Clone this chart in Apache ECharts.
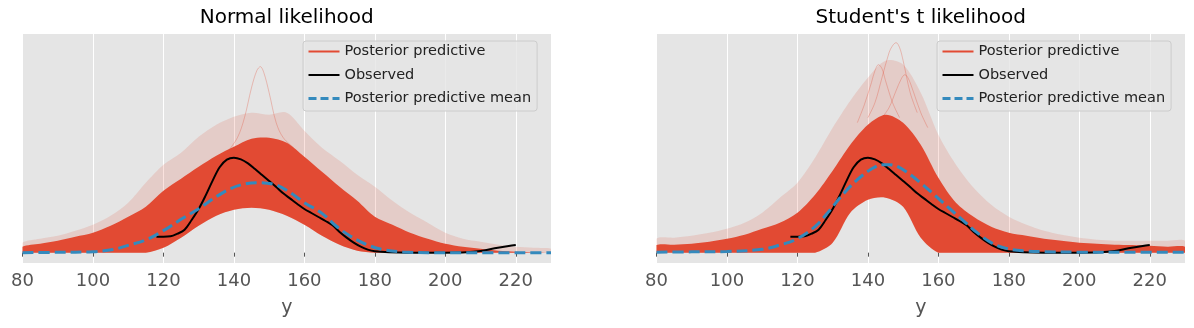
<!DOCTYPE html>
<html>
<head>
<meta charset="utf-8">
<title>Posterior predictive checks</title>
<script src="https://cdn.jsdelivr.net/npm/echarts@6/dist/echarts.min.js"></script>
<style>
  html, body { margin: 0; padding: 0; background: #fff; }
  #chart { width: 1194px; height: 328px; }
</style>
</head>
<body>
<div id="chart"></div>
<script>
(function() {
  'use strict';

  var FONT = 'DejaVu Sans';
  var RED = '#E24A33', BLUE = '#348ABD';

  var panelTitles = ['Normal likelihood', "Student's t likelihood"];
  var legendNames = ['Posterior predictive', 'Observed', 'Posterior predictive mean'];
  var xTicks = [80, 100, 120, 140, 160, 180, 200, 220];

  // x positions of the posterior predictive envelopes
  var envX = [80, 85, 90, 95, 100, 105, 110, 115, 120, 125, 130, 135, 140, 145, 150,
    155, 160, 165, 170, 175, 180, 185, 190, 195, 200, 205, 210, 215, 220, 225, 230];

  // observed kde (same in both panels)
  var obsX = [118, 120, 122, 124, 126, 128, 130, 132, 134, 136, 138, 140, 142, 144, 146,
    148, 150, 152, 154, 156, 158, 160, 162, 164, 166, 168, 170, 172, 174, 176, 178, 180,
    184, 190, 200, 206, 210, 214, 218, 220];
  var obsY = [0.0048, 0.0048, 0.0049, 0.0057, 0.0069, 0.0098, 0.0131, 0.0172, 0.0217,
    0.0257, 0.0279, 0.0285, 0.0280, 0.0268, 0.0251, 0.0233, 0.0215, 0.0197, 0.0178,
    0.0162, 0.0146, 0.0131, 0.0119, 0.0107, 0.0095, 0.0082, 0.0062, 0.0045, 0.0030,
    0.0018, 0.0009, 0.0004, 0.0001, 0, 0, 0.0001, 0.0005, 0.0013, 0.0020, 0.0023];

  // Normal likelihood
  var normMeanX = [80, 90, 100, 106, 110, 115, 120, 125, 130, 135, 139, 143, 147, 152,
    156, 160, 165, 169, 173, 178, 182, 188, 195, 230];
  var normMeanY = [0, 0.0001, 0.0003, 0.0010, 0.0022, 0.0038, 0.0066, 0.0100, 0.0132,
    0.0168, 0.0192, 0.0206, 0.0210, 0.0203, 0.0180, 0.0150, 0.0118, 0.0080, 0.0050,
    0.0023, 0.0010, 0.0002, 0, 0];
  var normUpper = [0.0018, 0.0027, 0.0036, 0.0048, 0.0060, 0.0081, 0.0108, 0.0138,
    0.0186, 0.0222, 0.0258, 0.0291, 0.0318, 0.0342, 0.0345, 0.0330, 0.0288, 0.0243,
    0.0198, 0.0156, 0.0108, 0.0084, 0.0060, 0.0042, 0.0027, 0.0018, 0.0012, 0.0006,
    0.0003, 0.00015, 0];
  var normFringe = [0.0030, 0.0042, 0.0051, 0.0066, 0.0084, 0.0111, 0.0150, 0.0210,
    0.0264, 0.0300, 0.0348, 0.0384, 0.0408, 0.0420, 0.0414, 0.0420, 0.0366, 0.0315,
    0.0276, 0.0234, 0.0198, 0.0156, 0.0120, 0.0090, 0.0060, 0.0042, 0.0033, 0.0024,
    0.0018, 0.0015, 0.0012];
  var normLower = [0, 0, 0, 0, 0, 0, 0, 0, 0.0015, 0.0045, 0.0081, 0.0111, 0.0129,
    0.0135, 0.0129, 0.0111, 0.0084, 0.0051, 0.0024, 0.0006, 0, 0, 0, 0, 0, 0, 0, 0, 0, 0, 0];
  var normSpikeX = [138, 141, 143, 145, 146.5, 147.5, 148.5, 150, 152, 154, 157];
  var normSpikeY = [0.0300, 0.0345, 0.0405, 0.0495, 0.0546, 0.0558, 0.0540, 0.0480,
    0.0390, 0.0345, 0.0315];

  // Student's t likelihood
  var tMeanX = [80, 90, 100, 110, 115, 120, 125, 129, 133, 137, 141, 144, 146, 148, 151,
    155, 159, 163, 167, 171, 175, 179, 184, 190, 200, 215, 230];
  var tMeanY = [0.00015, 0.00024, 0.00036, 0.0010, 0.0023, 0.0042, 0.0078, 0.0125,
    0.0176, 0.0219, 0.0251, 0.0264, 0.0264, 0.0260, 0.0242, 0.0209, 0.0172, 0.0134,
    0.0097, 0.0060, 0.0030, 0.00135, 0.00054, 0.0003, 0.00015, 0.00012, 0.0001];
  var tUpper = [0.0023, 0.0024, 0.0027, 0.0033, 0.0042, 0.0054, 0.0072, 0.0090, 0.0120,
    0.0174, 0.0246, 0.0324, 0.0384, 0.0414, 0.0390, 0.0324, 0.0225, 0.0150, 0.0108,
    0.0078, 0.0060, 0.0051, 0.0042, 0.0036, 0.0030, 0.0027, 0.0024, 0.0023, 0.0021,
    0.0018, 0.0018];
  var tFringe = [0.0042, 0.0045, 0.0051, 0.0060, 0.0072, 0.0090, 0.0120, 0.0165, 0.0210,
    0.0285, 0.0375, 0.0456, 0.0525, 0.0576, 0.0564, 0.0480, 0.0354, 0.0264, 0.0195,
    0.0144, 0.0108, 0.0084, 0.0066, 0.0054, 0.0045, 0.0039, 0.0036, 0.0036, 0.0036,
    0.0036, 0.0036];
  var tLower = [0, 0, 0, 0, 0, 0, 0, 0, 0, 0, 0.0030, 0.0120, 0.0159, 0.0165, 0.0138,
    0.0045, 0, 0, 0, 0, 0, 0, 0, 0, 0, 0, 0, 0, 0, 0, 0];
  var tSpike1X = [140, 142, 144, 146, 147, 148, 149, 150, 152, 154];
  var tSpike1Y = [0.0405, 0.0450, 0.0525, 0.0600, 0.0621, 0.0630, 0.0615, 0.0576, 0.0480, 0.0420];
  var tSpike2X = [144, 146, 148, 149.5, 150.5, 151.5, 153, 155, 157];
  var tSpike2Y = [0.0405, 0.0435, 0.0486, 0.0522, 0.0534, 0.0522, 0.0480, 0.0420, 0.0375];
  var tSpike3X = [137, 139, 141, 142, 143, 144, 145, 147, 149];
  var tSpike3Y = [0.0390, 0.0444, 0.0510, 0.0546, 0.0564, 0.0552, 0.0516, 0.0450, 0.0405];

  var gridLefts = [22.5, 656.5];

  function pairs(xs, ys) {
    return xs.map(function(x, i) { return [x, ys[i]]; });
  }

  // filled region between two envelopes, drawn through the axis scales
  function band(idx, upper, lower, color, opacity, z) {
    return {
      type: 'custom',
      xAxisIndex: idx,
      yAxisIndex: idx,
      silent: true,
      z: z,
      data: [[150, 0]],
      renderItem: function(params, api) {
        var pts = [], i;
        for (i = 0; i < envX.length; i++) {
          pts.push(api.coord([envX[i], upper[i]]));
        }
        for (i = envX.length - 1; i >= 0; i--) {
          pts.push(api.coord([envX[i], lower[i]]));
        }
        var lo = api.coord([80, 0.0656]), hi = api.coord([230, 0]);
        return {
          type: 'polygon',
          shape: { points: pts, smooth: 0.3, smoothConstraint: [lo, hi] },
          style: { fill: color, opacity: opacity }
        };
      }
    };
  }

  function line(idx, name, xs, ys, style, z) {
    return {
      type: 'line',
      name: name,
      xAxisIndex: idx,
      yAxisIndex: idx,
      data: pairs(xs, ys),
      smooth: 0.35,
      symbol: 'none',
      silent: true,
      z: z,
      itemStyle: { color: style.color },
      lineStyle: style
    };
  }

  var spikeStyle = { color: RED, width: 1, opacity: 0.3 };
  var obsStyle = { color: '#000', width: 2 };
  var meanStyle = { color: BLUE, width: 3, type: [11, 5] };

  var series = [
    band(0, normFringe, normLower, RED, 0.16, 1),
    band(0, normUpper, normLower, RED, 1, 2),
    line(0, legendNames[0], normSpikeX, normSpikeY, spikeStyle, 3),
    line(0, legendNames[1], obsX, obsY, obsStyle, 5),
    line(0, legendNames[2], normMeanX, normMeanY, meanStyle, 6),

    band(1, tFringe, tLower, RED, 0.16, 1),
    band(1, tUpper, tLower, RED, 1, 2),
    line(1, legendNames[0], tSpike1X, tSpike1Y, spikeStyle, 3),
    line(1, legendNames[0], tSpike2X, tSpike2Y, spikeStyle, 3),
    line(1, legendNames[0], tSpike3X, tSpike3Y, spikeStyle, 3),
    line(1, legendNames[1], obsX, obsY, obsStyle, 5),
    line(1, legendNames[2], tMeanX, tMeanY, meanStyle, 6)
  ];

  // legend handles: plain line, no symbol
  var legendData = [
    { name: legendNames[0], itemStyle: { opacity: 0 }, lineStyle: { color: RED, width: 2, opacity: 1 } },
    { name: legendNames[1], itemStyle: { opacity: 0 }, lineStyle: { color: '#000', width: 2 } },
    { name: legendNames[2], itemStyle: { opacity: 0 }, lineStyle: { color: BLUE, width: 3, type: [8, 4] } }
  ];

  var option = {
    animation: false,
    title: gridLefts.map(function(left, i) {
      return {
        text: panelTitles[i],
        left: left + 264.25,
        top: 8,
        textAlign: 'center',
        padding: 0,
        textStyle: { fontFamily: FONT, fontSize: 20, fontWeight: 'normal', color: '#000' }
      };
    }),
    legend: gridLefts.map(function(left) {
      return {
        data: legendData,
        orient: 'vertical',
        left: left + 280.5,
        top: 41,
        padding: [3, 6, 5, 4],
        itemWidth: 31,
        itemHeight: 14,
        itemGap: 8.5,
        itemTextGap: 16,
        selectedMode: false,
        backgroundColor: 'rgba(229,229,229,0.8)',
        borderColor: '#cccccc',
        borderWidth: 1,
        borderRadius: 3,
        textStyle: { fontFamily: FONT, fontSize: 14.5, color: '#222', lineHeight: 14 }
      };
    }),
    grid: gridLefts.map(function(left) {
      return {
        left: left, top: 34, width: 528.5, height: 229,
        show: true, backgroundColor: '#E5E5E5', borderWidth: 0
      };
    }),
    xAxis: gridLefts.map(function(left, i) {
      return {
        type: 'value',
        gridIndex: i,
        min: 80,
        max: 230,
        interval: 20,
        name: 'y',
        nameLocation: 'middle',
        nameGap: 36,
        nameTextStyle: { fontFamily: FONT, fontSize: 19, color: '#555' },
        axisLine: { show: false },
        axisTick: { show: true, length: 4, customValues: xTicks, lineStyle: { color: '#555' } },
        axisLabel: { customValues: xTicks, margin: 9, fontFamily: FONT, fontSize: 18, color: '#555' },
        splitLine: { show: true, lineStyle: { color: '#fff', width: 1 } }
      };
    }),
    yAxis: gridLefts.map(function(left, i) {
      return {
        type: 'value',
        gridIndex: i,
        min: -0.0031,
        max: 0.0656,
        show: false,
        splitLine: { show: false }
      };
    }),
    series: series
  };

  var chart = echarts.init(document.getElementById('chart'));
  chart.setOption(option);
})();
</script>
</body>
</html>
